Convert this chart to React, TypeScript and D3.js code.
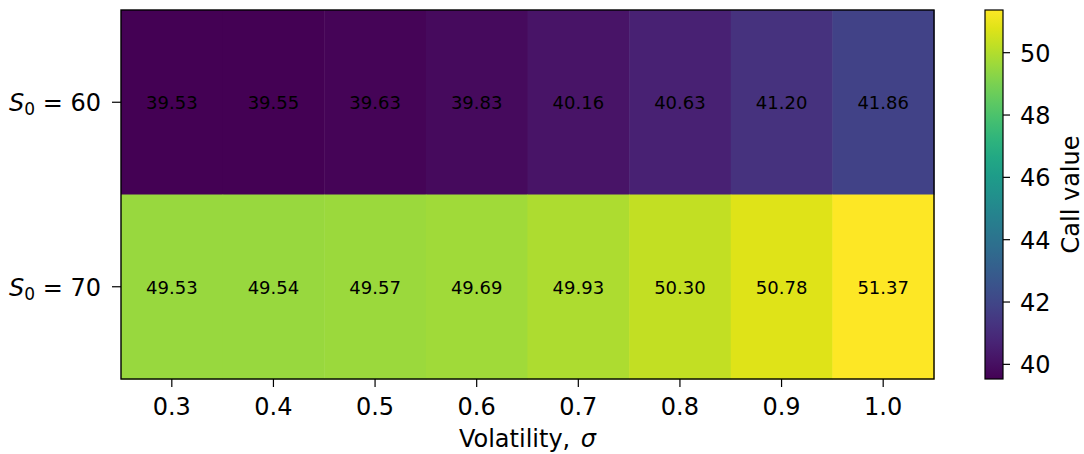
import React from 'react';
import * as d3 from 'd3';

const volatilities = ['0.3', '0.4', '0.5', '0.6', '0.7', '0.8', '0.9', '1.0'];
const spots = ['60', '70'];
const callS60 = [39.53, 39.55, 39.63, 39.83, 40.16, 40.63, 41.2, 41.86];
const callS70 = [49.53, 49.54, 49.57, 49.69, 49.93, 50.3, 50.78, 51.37];
const cbarTicks = [40, 42, 44, 46, 48, 50];

const rows = [callS60, callS70];
const font = 'DejaVu Sans, sans-serif';

const App = () => {
  const left = 121;
  const right = 934;
  const top = 10;
  const bottom = 379;

  const x = d3.scaleBand<string>().domain(volatilities).range([left, right]);
  const y = d3.scaleBand<string>().domain(spots).range([top, bottom]);

  const all = rows.flat();
  const vmin = d3.min(all) as number;
  const vmax = d3.max(all) as number;
  const color = d3.scaleSequential(d3.interpolateViridis).domain([vmin, vmax]);

  // colorbar
  const cbX = 985;
  const cbW = 18;
  const cbY = d3.scaleLinear().domain([vmin, vmax]).range([bottom, top]);
  const stops = d3.range(0, 1.0001, 0.05);

  return (
    <svg width={1084} height={454} style={{ display: 'block', position: 'absolute', left: 0, top: 0 }}>
      <defs>
        <linearGradient id="cb" x1="0" y1="1" x2="0" y2="0">
          {stops.map((t) => (
            <stop key={t} offset={`${t * 100}%`} stopColor={d3.interpolateViridis(t)} />
          ))}
        </linearGradient>
      </defs>
      {rows.map((vals, i) =>
        vals.map((v, j) => (
          <g key={`${i}-${j}`}>
            <rect
              x={x(volatilities[j])}
              y={y(spots[i])}
              width={x.bandwidth() + 0.5}
              height={y.bandwidth() + 0.5}
              fill={color(v)}
            />
            <text
              x={(x(volatilities[j]) as number) + x.bandwidth() / 2}
              y={(y(spots[i]) as number) + y.bandwidth() / 2 + 7}
              textAnchor="middle"
              fontFamily={font}
              fontSize={18}
              fill="#000"
            >
              {v.toFixed(2)}
            </text>
          </g>
        ))
      )}
      <rect x={left} y={top} width={right - left} height={bottom - top} fill="none" stroke="#000" strokeWidth={1.4} />

      {/* x axis */}
      {volatilities.map((v) => {
        const cx = (x(v) as number) + x.bandwidth() / 2;
        return (
          <g key={v}>
            <line x1={cx} x2={cx} y1={bottom} y2={bottom + 8} stroke="#000" strokeWidth={1.2} />
            <text x={cx} y={415} textAnchor="middle" fontFamily={font} fontSize={24} fill="#000">
              {v}
            </text>
          </g>
        );
      })}
      <text x={(left + right) / 2} y={447} textAnchor="middle" fontFamily={font} fontSize={24} fill="#000">
        {'Volatility, '}
        <tspan dx={3} fontStyle="italic">σ</tspan>
      </text>

      {/* y axis */}
      {spots.map((s) => {
        const cy = (y(s) as number) + y.bandwidth() / 2;
        return (
          <g key={s}>
            <line x1={left - 9} x2={left} y1={cy} y2={cy} stroke="#000" strokeWidth={1.2} />
            <text x={left - 20} y={cy + 9} textAnchor="end" fontFamily={font} fontSize={24} fill="#000">
              <tspan fontStyle="italic">S</tspan>
              <tspan fontSize={17} dy={4}>0</tspan>
              <tspan dy={-4}>{' = ' + s}</tspan>
            </text>
          </g>
        );
      })}

      {/* colorbar */}
      <rect x={cbX} y={top} width={cbW} height={bottom - top} fill="url(#cb)" stroke="#000" strokeWidth={1.2} />
      {cbarTicks.map((t) => (
        <g key={t}>
          <line x1={cbX + cbW} x2={cbX + cbW + 7} y1={cbY(t)} y2={cbY(t)} stroke="#000" strokeWidth={1.2} />
          <text x={cbX + cbW + 17} y={cbY(t) + 9} fontFamily={font} fontSize={24} fill="#000">
            {t}
          </text>
        </g>
      ))}
      <text
        transform={`translate(1079,${(top + bottom) / 2}) rotate(-90)`}
        textAnchor="middle"
        fontFamily={font}
        fontSize={24}
        fill="#000"
      >
        Call value
      </text>
    </svg>
  );
};

export default App;
